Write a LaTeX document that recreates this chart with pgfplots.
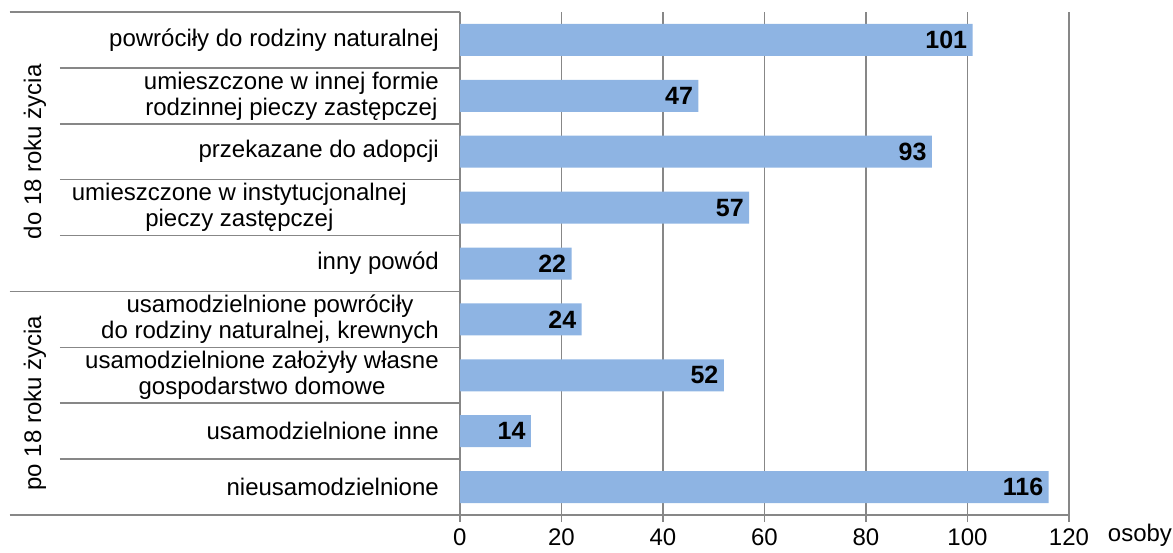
\documentclass[border=0pt]{standalone}
\usepackage{fontspec}
\setmainfont{Liberation Sans}
\usepackage{pgfplots}
\pgfplotsset{compat=1.18}
\definecolor{barblue}{HTML}{8EB4E3}
\definecolor{gridgray}{HTML}{878787}

\begin{document}
\begin{tikzpicture}[font=\fontsize{12}{13}\selectfont]
\begin{axis}[
    xbar,
    scale only axis,
    width=304.5pt, height=251.5pt,
    xmin=0, xmax=120,
    ymin=0.5, ymax=9.5,
    y dir=reverse,
    clip=false,
    axis x line*=bottom,
    axis y line*=left,
    axis line style={gridgray, line width=0.8pt},
    xtick={0,20,...,120},
    xmajorgrids,
    grid style={gridgray, line width=0.8pt},
    tick align=outside,
    x tick style={gridgray, line width=0.8pt},
    major tick length=3.5pt,
    /pgf/number format/assume math mode=true,
    ytick={1,...,9},
    y tick style={draw=none},
    yticklabels={
        {powróciły do rodziny naturalnej},
        {umieszczone w innej formie\\rodzinnej pieczy zastępczej},
        {przekazane do adopcji},
        {umieszczone w instytucjonalnej\hspace*{16pt}\\pieczy zastępczej\hspace*{16pt}},
        {inny powód},
        {usamodzielnione powróciły\\do rodziny naturalnej, krewnych},
        {usamodzielnione założyły własne\\gospodarstwo domowe},
        {usamodzielnione inne},
        {nieusamodzielnione}
    },
    yticklabel style={align=center, xshift=-3.5pt},
    bar width=16pt,
    nodes near coords,
    nodes near coords style={anchor=east, inner sep=1pt, xshift=-1.5pt,
        font=\fontsize{12.5}{13}\selectfont\bfseries, text=black},
]
\addplot[fill=barblue, draw=none] coordinates {
    (101,1) (47,2) (93,3) (57,4) (22,5)
    (24,6) (52,7) (14,8) (116,9)
};
% category separators
\draw[gridgray, line width=0.8pt] (axis cs:-88.7,0.5) -- (axis cs:0,0.5);
\draw[gridgray, line width=0.8pt] (axis cs:-78.8,1.5) -- (axis cs:0,1.5);
\draw[gridgray, line width=0.8pt] (axis cs:-78.8,2.5) -- (axis cs:0,2.5);
\draw[gridgray, line width=0.8pt] (axis cs:-78.8,3.5) -- (axis cs:0,3.5);
\draw[gridgray, line width=0.8pt] (axis cs:-78.8,4.5) -- (axis cs:0,4.5);
\draw[gridgray, line width=0.8pt] (axis cs:-88.7,5.5) -- (axis cs:0,5.5);
\draw[gridgray, line width=0.8pt] (axis cs:-78.8,6.5) -- (axis cs:0,6.5);
\draw[gridgray, line width=0.8pt] (axis cs:-78.8,7.5) -- (axis cs:0,7.5);
\draw[gridgray, line width=0.8pt] (axis cs:-78.8,8.5) -- (axis cs:0,8.5);
\draw[gridgray, line width=0.8pt] (axis cs:-88.7,9.5) -- (axis cs:0,9.5);
% group labels
\node[rotate=90] at (axis cs:-83.7,3) {do 18 roku życia};
\node[rotate=90] at (axis cs:-83.7,7.5) {po 18 roku życia};
\node at (axis cs:120,9.5) [xshift=35.5pt, yshift=-10pt] {osoby};
\coordinate (bl) at (axis cs:-90.6,9.5);
\coordinate (tr) at (axis cs:140.5,0.5);
\end{axis}
\pgfresetboundingbox
\path[use as bounding box] ([yshift=-18.5pt]bl) rectangle ([yshift=6pt]tr);
\end{tikzpicture}
\end{document}
